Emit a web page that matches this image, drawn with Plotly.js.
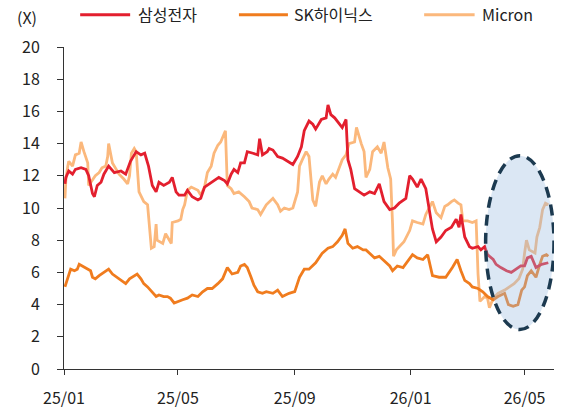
<!DOCTYPE html>
<html>
<head>
<meta charset="utf-8">
<script src="https://cdn.plot.ly/plotly-3.0.1.min.js"></script>
<style>
  html, body { margin: 0; padding: 0; background: #fff; }
  #plot { width: 561px; height: 414px; }
</style>
</head>
<body>
<div id="plot"></div>
<script>
// 삼성전자
var samsungDates = ['2025-01-02','2025-01-03','2025-01-06','2025-01-10','2025-01-13','2025-01-19','2025-01-24','2025-01-27','2025-01-31','2025-02-02',
  '2025-02-05','2025-02-09','2025-02-12','2025-02-17','2025-02-23','2025-03-02','2025-03-07','2025-03-12','2025-03-18','2025-03-23',
  '2025-03-27','2025-03-31','2025-04-04','2025-04-08','2025-04-11','2025-04-16','2025-04-22','2025-04-25','2025-04-29','2025-05-02',
  '2025-05-08','2025-05-11','2025-05-16','2025-05-22','2025-05-25','2025-05-29','2025-06-03','2025-06-08','2025-06-13','2025-06-19',
  '2025-06-22','2025-06-26','2025-06-29','2025-07-03','2025-07-06','2025-07-10','2025-07-13','2025-07-19','2025-07-24','2025-07-26',
  '2025-07-29','2025-08-03','2025-08-05','2025-08-09','2025-08-14','2025-08-19','2025-08-24','2025-08-30','2025-09-04','2025-09-08',
  '2025-09-11','2025-09-16','2025-09-20','2025-09-23','2025-09-29','2025-10-04','2025-10-06','2025-10-09','2025-10-13','2025-10-18',
  '2025-10-21','2025-10-25','2025-10-27','2025-10-30','2025-11-03','2025-11-08','2025-11-13','2025-11-19','2025-11-24','2025-11-29',
  '2025-12-04','2025-12-10','2025-12-15','2025-12-20','2025-12-27','2025-12-31','2026-01-03','2026-01-08','2026-01-12','2026-01-17',
  '2026-01-21','2026-01-24','2026-01-28','2026-02-02','2026-02-07','2026-02-13','2026-02-18','2026-02-21','2026-02-23','2026-02-27',
  '2026-03-04','2026-03-07','2026-03-13','2026-03-16','2026-03-20','2026-03-23','2026-03-29','2026-04-01','2026-04-06','2026-04-12',
  '2026-04-17','2026-04-22','2026-04-27','2026-05-01','2026-05-04','2026-05-08','2026-05-13','2026-05-19','2026-05-26'];
var samsungPE = [11.5,11.9,12.3,12.1,12.4,12.5,12.4,12.0,10.9,10.7,
  11.4,11.6,12.1,12.6,12.2,12.3,12.1,12.9,13.5,13.3,
  13.4,12.6,11.4,11.0,11.6,11.4,11.6,11.9,11.0,10.8,
  10.8,11.1,10.7,10.5,10.6,11.3,11.5,11.7,11.9,11.7,
  11.5,12.1,12.4,12.2,12.8,12.8,13.5,13.4,13.3,14.3,
  13.3,13.5,13.7,13.6,13.2,13.1,12.9,12.7,13.2,13.8,
  14.8,15.4,15.2,14.9,15.5,15.6,16.4,15.8,15.6,15.2,
  15.0,15.5,13.0,12.4,11.2,11.0,10.8,11.0,10.9,11.5,
  10.4,9.9,10.0,10.3,10.6,12.0,11.8,11.3,11.8,11.2,
  9.9,8.7,7.9,8.2,8.6,8.8,9.3,8.8,9.6,8.2,
  7.6,7.5,7.6,7.4,7.6,7.1,6.8,6.5,6.3,6.1,
  6.0,6.2,6.4,6.4,6.9,7.0,6.3,6.5,6.6];

// SK하이닉스
var skDates = ['2025-01-02','2025-01-05','2025-01-08','2025-01-12','2025-01-15','2025-01-17','2025-01-20','2025-01-24','2025-01-29','2025-01-31',
  '2025-02-03','2025-02-07','2025-02-12','2025-02-17','2025-02-21','2025-02-26','2025-03-03','2025-03-07','2025-03-11','2025-03-14',
  '2025-03-19','2025-03-23','2025-03-26','2025-03-30','2025-04-04','2025-04-08','2025-04-11','2025-04-16','2025-04-20','2025-04-23',
  '2025-04-27','2025-05-01','2025-05-06','2025-05-11','2025-05-16','2025-05-22','2025-05-27','2025-06-01','2025-06-06','2025-06-12',
  '2025-06-17','2025-06-22','2025-06-27','2025-07-03','2025-07-06','2025-07-10','2025-07-13','2025-07-17','2025-07-20','2025-07-24',
  '2025-07-29','2025-08-02','2025-08-09','2025-08-14','2025-08-19','2025-08-26','2025-09-01','2025-09-06','2025-09-11','2025-09-16',
  '2025-09-23','2025-09-30','2025-10-06','2025-10-11','2025-10-16','2025-10-21','2025-10-24','2025-10-27','2025-11-01','2025-11-06',
  '2025-11-12','2025-11-15','2025-11-19','2025-11-24','2025-11-29','2025-12-04','2025-12-10','2025-12-13','2025-12-18','2025-12-24',
  '2025-12-29','2026-01-03','2026-01-08','2026-01-14','2026-01-19','2026-01-24','2026-01-31','2026-02-07','2026-02-14','2026-02-19',
  '2026-02-23','2026-02-27','2026-03-04','2026-03-07','2026-03-13','2026-03-18','2026-03-23','2026-03-29','2026-04-03','2026-04-10',
  '2026-04-14','2026-04-19','2026-04-24','2026-04-28','2026-05-01','2026-05-04','2026-05-08','2026-05-13','2026-05-17','2026-05-20',
  '2026-05-24','2026-05-26'];
var skPE = [5.1,5.7,6.2,6.1,6.2,6.5,6.4,6.3,6.1,5.7,
  5.6,5.8,6.0,6.2,5.9,5.7,5.5,5.3,5.6,5.7,
  5.9,5.6,5.3,5.1,4.8,4.5,4.6,4.5,4.5,4.4,
  4.1,4.2,4.3,4.4,4.6,4.5,4.8,5.0,5.0,5.3,
  5.6,6.3,5.9,6.0,6.4,6.5,6.3,5.7,5.2,4.8,
  4.7,4.8,4.7,4.9,4.5,4.7,4.8,5.7,6.2,6.2,
  6.6,7.2,7.5,7.6,7.9,8.3,8.7,7.8,7.5,7.6,
  7.4,7.4,7.2,6.9,7.0,6.7,6.4,6.1,6.4,6.3,
  6.7,7.1,6.9,6.8,7.1,5.8,5.7,5.7,6.3,6.8,
  6.1,5.5,5.3,5.1,5.0,4.8,4.5,4.3,4.5,4.7,
  4.0,3.9,4.0,4.9,5.1,5.8,6.1,5.7,6.5,7.0,
  7.1,7.0];

// Micron
var micronDates = ['2025-01-02','2025-01-03','2025-01-05','2025-01-06','2025-01-10','2025-01-13','2025-01-17','2025-01-19','2025-01-22','2025-01-26',
  '2025-01-27','2025-01-31','2025-02-03','2025-02-07','2025-02-10','2025-02-14','2025-02-16','2025-02-17','2025-02-21','2025-02-25',
  '2025-02-28','2025-03-05','2025-03-09','2025-03-11','2025-03-13','2025-03-16','2025-03-18','2025-03-21','2025-03-26','2025-03-30',
  '2025-04-01','2025-04-03','2025-04-06','2025-04-08','2025-04-09','2025-04-15','2025-04-18','2025-04-22','2025-04-24','2025-04-25',
  '2025-05-01','2025-05-04','2025-05-06','2025-05-08','2025-05-11','2025-05-15','2025-05-18','2025-05-22','2025-05-25','2025-05-29',
  '2025-06-01','2025-06-05','2025-06-08','2025-06-12','2025-06-15','2025-06-17','2025-06-19','2025-06-20','2025-06-22','2025-06-26',
  '2025-06-29','2025-07-04','2025-07-10','2025-07-15','2025-07-18','2025-07-24','2025-07-27','2025-07-31','2025-08-02','2025-08-09',
  '2025-08-14','2025-08-17','2025-08-21','2025-08-26','2025-08-30','2025-09-04','2025-09-06','2025-09-09','2025-09-13','2025-09-16',
  '2025-09-18','2025-09-20','2025-09-23','2025-09-27','2025-09-30','2025-10-04','2025-10-07','2025-10-11','2025-10-14','2025-10-18',
  '2025-10-21','2025-10-25','2025-10-28','2025-11-03','2025-11-05','2025-11-10','2025-11-13','2025-11-15','2025-11-19','2025-11-22',
  '2025-11-27','2025-12-01','2025-12-04','2025-12-08','2025-12-11','2025-12-13','2025-12-14','2025-12-17','2025-12-20','2025-12-25',
  '2025-12-31','2026-01-03','2026-01-08','2026-01-14','2026-01-17','2026-01-21','2026-01-24','2026-01-28','2026-02-02','2026-02-06',
  '2026-02-09','2026-02-13','2026-02-16','2026-02-20','2026-02-23','2026-02-25','2026-03-02','2026-03-07','2026-03-11','2026-03-13',
  '2026-03-15','2026-03-20','2026-03-23','2026-03-25','2026-03-29','2026-04-03','2026-04-10','2026-04-15','2026-04-20','2026-04-25',
  '2026-04-29','2026-05-01','2026-05-03','2026-05-06','2026-05-12','2026-05-14','2026-05-17','2026-05-20','2026-05-23','2026-05-26'];
var micronPE = [10.6,11.8,12.6,12.9,12.6,13.3,13.4,14.1,13.5,12.8,
  11.4,11.7,12.0,12.2,12.5,12.6,13.2,14.0,12.8,12.4,
  12.1,11.8,11.5,12.0,13.4,13.7,13.5,11.0,10.4,10.2,
  8.7,7.5,7.6,9.0,8.0,7.8,8.4,8.0,7.8,9.1,
  9.2,9.3,9.9,10.2,11.1,11.3,11.2,11.1,10.8,11.3,
  12.2,12.6,13.4,13.9,14.1,14.4,14.6,14.8,11.4,11.2,
  10.9,11.0,10.7,10.4,10.0,9.9,9.6,10.0,10.2,10.6,
  10.2,9.8,10.0,9.9,10.0,11.0,12.6,13.0,13.5,13.2,
  12.0,10.5,10.1,11.6,12.0,11.5,11.8,12.1,11.9,12.5,
  13.0,13.3,14.0,14.1,15.0,14.0,13.5,11.9,12.4,13.5,
  13.8,13.4,14.1,12.5,11.8,9.0,7.0,7.4,7.6,7.9,
  8.6,9.2,9.1,9.0,9.6,10.1,10.4,9.7,9.4,10.1,
  10.2,10.4,10.5,10.3,10.2,9.2,9.2,9.1,9.2,5.9,
  4.2,4.5,4.4,3.8,4.4,4.7,4.9,5.1,5.3,5.6,
  6.2,7.2,8.0,7.4,7.2,8.2,8.8,9.9,10.3,10.2];

var yTicks = [0, 2, 4, 6, 8, 10, 12, 14, 16, 18, 20];
var xTickVals = ['2025-01-01', '2025-05-01', '2025-09-01', '2026-01-01', '2026-05-01'];
var xTickText = ['25/01', '25/05', '25/09', '26/01', '26/05'];

var colors = ['#e31f2e', '#f07c1e', '#fbb87c'];
var names = ['삼성전자', 'SK하이닉스', 'Micron'];

var fontFam = '"Noto Sans CJK KR", "Noto Sans", sans-serif';

var traces = [
  {x: samsungDates, y: samsungPE, name: names[0], type: 'scatter', mode: 'lines', line: {color: colors[0], width: 2.8}},
  {x: skDates, y: skPE, name: names[1], type: 'scatter', mode: 'lines', line: {color: colors[1], width: 2.8}},
  {x: micronDates, y: micronPE, name: names[2], type: 'scatter', mode: 'lines', line: {color: colors[2], width: 2.8}}
];
// Micron drawn underneath the others, like the reference
traces = [traces[2], traces[1], traces[0]];

// hand-made legend (long line samples)
var legendX = [[0.033, 0.135, 0.147], [0.357, 0.457, 0.466], [0.735, 0.838, 0.849]];
var shapes = [];
var annotations = [];
for (var i = 0; i < 3; i++) {
  shapes.push({
    type: 'line', xref: 'paper', yref: 'paper',
    x0: legendX[i][0], x1: legendX[i][1], y0: 1.1, y1: 1.1,
    line: {color: colors[i], width: 3}
  });
  annotations.push({
    xref: 'paper', yref: 'paper', x: legendX[i][2], y: 1.103,
    xanchor: 'left', yanchor: 'middle', showarrow: false,
    text: names[i], font: {family: fontFam, size: 16, color: '#222'}
  });
}
annotations.push({
  xref: 'paper', yref: 'paper', x: -0.076, y: 1.094,
  xanchor: 'center', yanchor: 'middle', showarrow: false,
  text: '(X)', font: {family: fontFam, size: 16, color: '#222'}
});

// highlighted recent period
shapes.push({
  type: 'circle', xref: 'x', yref: 'y',
  x0: '2026-03-21', x1: '2026-06-01', y0: 2.45, y1: 13.25,
  fillcolor: 'rgba(155,189,224,0.36)',
  line: {color: '#1c3a50', width: 3.5, dash: '11px,7px'},
  layer: 'above'
});

var layout = {
  width: 561,
  height: 414,
  showlegend: false,
  paper_bgcolor: '#fff',
  plot_bgcolor: '#fff',
  margin: {l: 64, r: 7, t: 47, b: 44.5},
  font: {family: fontFam, size: 16, color: '#222'},
  xaxis: {
    type: 'date',
    range: ['2025-01-01', '2026-06-01'],
    tickmode: 'array',
    tickvals: xTickVals,
    ticktext: xTickText,
    ticks: 'outside',
    ticklen: 5,
    tickcolor: '#333',
    ticklabelstandoff: 10,
    showline: true,
    linecolor: '#333',
    linewidth: 1,
    showgrid: false,
    zeroline: false,
    tickfont: {family: fontFam, size: 16, color: '#222'}
  },
  yaxis: {
    range: [0, 20],
    tickmode: 'array',
    tickvals: yTicks,
    ticks: 'outside',
    ticklen: 6,
    tickcolor: '#333',
    ticklabelstandoff: 14,
    showline: true,
    linecolor: '#333',
    linewidth: 1,
    showgrid: false,
    zeroline: false,
    tickfont: {family: fontFam, size: 16, color: '#222'}
  },
  shapes: shapes,
  annotations: annotations
};

Plotly.newPlot('plot', traces, layout, {displayModeBar: false, staticPlot: true});
</script>
</body>
</html>
